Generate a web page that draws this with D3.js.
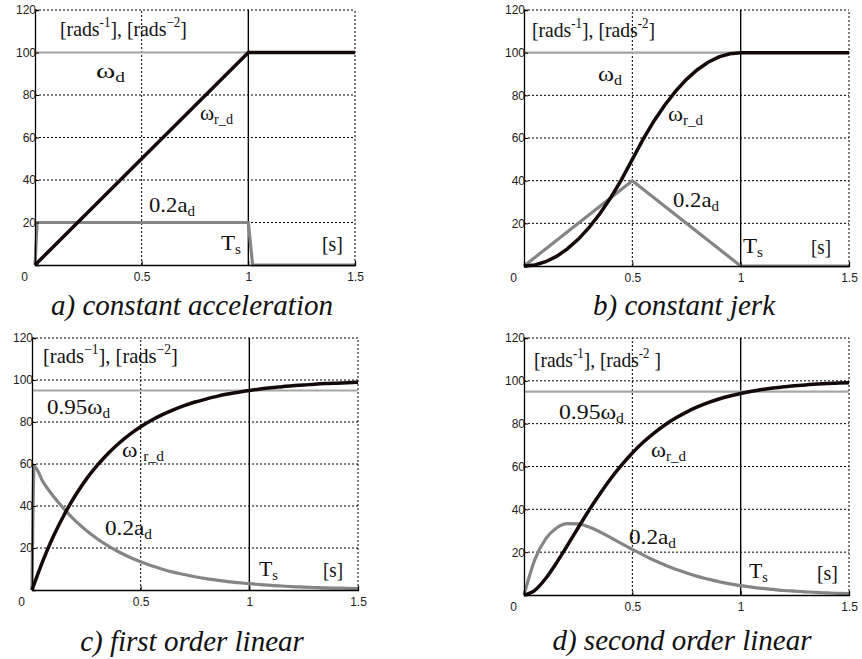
<!DOCTYPE html>
<html>
<head>
<meta charset="utf-8">
<script src="https://cdn.jsdelivr.net/npm/d3@7"></script>
<style>
  body { margin: 0; background: #fff; }
  svg { display: block; }
</style>
</head>
<body>
<div id="chart"></div>
<script>
// tick values shared by all four panels
var xTicks = [0, 0.5, 1, 1.5];
var yTicks = [20, 40, 60, 80, 100, 120];

// common time grid (s)
var t05 = [0, 0.05, 0.1, 0.15, 0.2, 0.25, 0.3, 0.35, 0.4, 0.45, 0.5, 0.55, 0.6, 0.65, 0.7, 0.75,
           0.8, 0.85, 0.9, 0.95, 1, 1.05, 1.1, 1.15, 1.2, 1.25, 1.3, 1.35, 1.4, 1.45, 1.5];

// a) constant acceleration
var tA_speed = [0, 1, 1.5];
var speedA = [0, 100, 100];
var tA_acc = [0, 0.01, 1, 1.02, 1.5];
var accA = [0, 20, 20, 0, 0];

// b) constant jerk
var tB_speed = [0, 0.05, 0.1, 0.15, 0.2, 0.25, 0.3, 0.35, 0.4, 0.45, 0.5, 0.55, 0.6, 0.65, 0.7, 0.75,
                0.8, 0.85, 0.9, 0.95, 1, 1.5];
var speedB = [0, 0.5, 2, 4.5, 8, 12.5, 18, 24.5, 32, 40.5, 50, 59.5, 68, 75.5, 82, 87.5,
              92, 95.5, 98, 99.5, 100, 100];
var tB_acc = [0, 0.5, 1, 1.5];
var accB = [0, 40, 0, 0];

// c) first order linear
var speedC = [0, 13.9, 25.9, 36.2, 45.1, 52.8, 59.3, 65.0, 69.9, 74.1, 77.7, 80.8, 83.5, 85.8, 87.8, 89.5,
              90.9, 92.2, 93.3, 94.2, 95.0, 95.7, 96.3, 96.8, 97.3, 97.6, 98.0, 98.3, 98.5, 98.7, 98.9];
var tC_acc = [0, 0.01, 0.05, 0.1, 0.15, 0.2, 0.25, 0.3, 0.35, 0.4, 0.45, 0.5, 0.55, 0.6, 0.65, 0.7, 0.75,
              0.8, 0.85, 0.9, 0.95, 1, 1.05, 1.1, 1.15, 1.2, 1.25, 1.3, 1.35, 1.4, 1.45, 1.5];
var accC = [0, 59, 51.6, 44.4, 38.3, 32.9, 28.3, 24.4, 21.0, 18.1, 15.6, 13.4, 11.5, 9.9, 8.5, 7.4, 6.3,
            5.4, 4.7, 4.0, 3.5, 3.0, 2.6, 2.2, 1.9, 1.6, 1.4, 1.2, 1.0, 0.9, 0.8, 0.7];

// d) second order linear
var speedD = [0, 2.2, 7.7, 15.0, 23.1, 31.4, 39.6, 47.2, 54.3, 60.6, 66.3, 71.3, 75.6, 79.4, 82.6, 85.4,
              87.8, 89.8, 91.5, 92.9, 94.1, 95.1, 96.0, 96.7, 97.2, 97.7, 98.1, 98.5, 98.7, 99.0, 99.1];
var accD = [0, 16.5, 26.2, 31.3, 33.3, 33.2, 31.7, 29.5, 26.8, 24.0, 21.3, 18.7, 16.2, 14.0, 12.0, 10.3,
            8.7, 7.4, 6.2, 5.2, 4.4, 3.7, 3.1, 2.6, 2.1, 1.8, 1.5, 1.2, 1.0, 0.8, 0.7];

var refLevels = [100, 100, 95, 95];
var captions = ['a) constant acceleration', 'b) constant jerk', 'c) first order linear', 'd) second order linear'];

function zip(ts, vs) {
    return ts.map(function(t, i) { return [t, vs[i]]; });
}

var svg = d3.select('#chart').append('svg')
    .attr('width', 862)
    .attr('height', 659);

var serif = "'Liberation Serif', 'Times New Roman', serif";

// plot boxes in pixels; label x, baseline y, font size and width to squeeze into
var panels = [
    {box: [35, 355, 10, 265], speed: zip(tA_speed, speedA), acc: zip(tA_acc, accA), curve: d3.curveLinear,
     cap: [192, 315],
     labels: [
        {x: 60, y: 36, size: 22, w: 127, parts: [['[rads'], ['-1', 'sup'], ['], [rads'], ['\u22122', 'sup'], [']']]},
        {x: 96, y: 78, size: 22, w: 29, parts: [['\u03c9'], ['d', 'sub']]},
        {x: 200, y: 120, size: 22, w: 33, parts: [['\u03c9'], ['r_d', 'sub']]},
        {x: 149, y: 212, size: 21, w: 46, parts: [['0.2a'], ['d', 'sub']]},
        {x: 221, y: 250, size: 22, w: 20, parts: [['T'], ['s', 'sub']]},
        {x: 322, y: 251, size: 22, w: 21, parts: [['[s]']]}
     ]},
    {box: [524, 849, 10, 266], speed: zip(tB_speed, speedB), acc: zip(tB_acc, accB), curve: d3.curveLinear,
     cap: [684, 315],
     labels: [
        {x: 532, y: 37, size: 22, w: 123, parts: [['[rads'], ['-1', 'sup'], ['],  [rads'], ['-2', 'sup'], [']']]},
        {x: 598, y: 81, size: 22, w: 24, parts: [['\u03c9'], ['d', 'sub']]},
        {x: 668, y: 121, size: 22, w: 35, parts: [['\u03c9'], ['r_d', 'sub']]},
        {x: 673, y: 207, size: 21, w: 46, parts: [['0.2a'], ['d', 'sub']]},
        {x: 743, y: 253, size: 22, w: 20, parts: [['T'], ['s', 'sub']]},
        {x: 811, y: 254, size: 22, w: 20, parts: [['[s]']]}
     ]},
    {box: [32, 358, 338, 590], speed: zip(t05, speedC), acc: zip(tC_acc, accC), curve: d3.curveMonotoneX,
     cap: [192, 651],
     labels: [
        {x: 43, y: 363, size: 22, w: 135, parts: [['[rads'], ['\u22121', 'sup'], ['],  [rads'], ['\u22122', 'sup'], [']']]},
        {x: 47, y: 414, size: 21, w: 63, parts: [['0.95\u03c9'], ['d', 'sub']]},
        {x: 122, y: 457, size: 21, w: 42, parts: [['\u03c9 '], ['r_d', 'sub']]},
        {x: 105, y: 535, size: 21, w: 47, parts: [['0.2a'], ['d', 'sub']]},
        {x: 259, y: 576, size: 22, w: 19, parts: [['T'], ['s', 'sub']]},
        {x: 323, y: 577, size: 22, w: 20, parts: [['[s]']]}
     ]},
    {box: [524, 849, 338, 595], speed: zip(t05, speedD), acc: zip(t05, accD), curve: d3.curveMonotoneX,
     cap: [682, 650],
     labels: [
        {x: 534, y: 367, size: 22, w: 127, parts: [['[rads'], ['-1', 'sup'], ['],  [rads'], ['-2', 'sup'], [' ]']]},
        {x: 559, y: 419, size: 21, w: 65, parts: [['0.95\u03c9'], ['d', 'sub']]},
        {x: 651, y: 457, size: 21, w: 35, parts: [['\u03c9'], ['r_d', 'sub']]},
        {x: 629, y: 544, size: 21, w: 47, parts: [['0.2a'], ['d', 'sub']]},
        {x: 749, y: 578, size: 22, w: 19, parts: [['T'], ['s', 'sub']]},
        {x: 817, y: 580, size: 22, w: 21, parts: [['[s]']]}
     ]}
];

function addLabel(g, lab) {
    var text = g.append('text')
        .attr('x', 0)
        .attr('y', 0)
        .attr('font-family', serif)
        .attr('font-size', lab.size)
        .attr('fill', '#111');
    var shift = 0;
    lab.parts.forEach(function(p) {
        var want = 0;
        if (p[1] == 'sub') want = lab.size * 0.18;
        if (p[1] == 'sup') want = -lab.size * 0.4;
        text.append('tspan')
            .attr('dy', want - shift)
            .attr('font-size', p[1] ? lab.size * 0.66 : lab.size)
            .text(p[0]);
        shift = want;
    });
    // squeeze / stretch horizontally to the width seen in the figure
    var len = text.node().getComputedTextLength();
    var sx = len > 0 ? lab.w / len : 1;
    text.attr('transform', 'translate(' + lab.x + ',' + lab.y + ') scale(' + sx + ',1)');
}

panels.forEach(function(p, i) {
    var x = d3.scaleLinear().domain([0, 1.5]).range([p.box[0], p.box[1]]);
    var y = d3.scaleLinear().domain([0, 120]).range([p.box[3], p.box[2]]);
    var g = svg.append('g');

    // dotted grid
    g.selectAll('.hgrid').data(yTicks).enter().append('line')
        .attr('x1', x(0)).attr('x2', x(1.5))
        .attr('y1', function(d) { return y(d); })
        .attr('y2', function(d) { return y(d); })
        .attr('stroke', '#000').attr('stroke-width', 1)
        .attr('stroke-dasharray', '2,2');
    g.selectAll('.vgrid').data([0.5, 1.5]).enter().append('line')
        .attr('x1', function(d) { return x(d); })
        .attr('x2', function(d) { return x(d); })
        .attr('y1', y(0)).attr('y2', y(120))
        .attr('stroke', '#000').attr('stroke-width', 1)
        .attr('stroke-dasharray', '2,2');

    // settling time marker
    g.append('line')
        .attr('x1', x(1)).attr('x2', x(1))
        .attr('y1', y(0)).attr('y2', y(120))
        .attr('stroke', '#000').attr('stroke-width', 1.4);

    // reference speed
    g.append('line')
        .attr('x1', x(0)).attr('x2', x(1.5))
        .attr('y1', y(refLevels[i])).attr('y2', y(refLevels[i]))
        .attr('stroke', '#a6a6a6').attr('stroke-width', 2.2);

    var line = d3.line()
        .x(function(d) { return x(d[0]); })
        .y(function(d) { return y(d[1]); })
        .curve(p.curve);

    g.append('path')
        .attr('d', line(p.acc))
        .attr('fill', 'none')
        .attr('stroke', '#858585')
        .attr('stroke-width', 3.2);

    g.append('path')
        .attr('d', line(p.speed))
        .attr('fill', 'none')
        .attr('stroke', '#140808')
        .attr('stroke-width', 3.5);

    // axes (ticks pointing inward, MATLAB style)
    var yAxis = g.append('g')
        .attr('transform', 'translate(' + x(0) + ',0)')
        .call(d3.axisLeft(y).tickValues(yTicks).tickSize(-4).tickPadding(2).tickFormat(d3.format('d')));
    var xAxis = g.append('g')
        .attr('transform', 'translate(0,' + y(0) + ')')
        .call(d3.axisBottom(x).tickValues(xTicks).tickSize(-4).tickPadding(7).tickFormat(d3.format('')));
    [yAxis, xAxis].forEach(function(a) {
        a.select('.domain').attr('stroke', '#000').attr('stroke-width', 1.3);
        a.selectAll('text')
            .attr('font-family', 'Arial, "Liberation Sans", sans-serif')
            .attr('font-size', 12)
            .attr('fill', '#222');
    });
    yAxis.selectAll('text').attr('x', 1);
    xAxis.selectAll('text').filter(function(d) { return d == 0; }).attr('x', -11);

    p.labels.forEach(function(lab) { addLabel(svg, lab); });

    svg.append('text')
        .attr('x', p.cap[0])
        .attr('y', p.cap[1])
        .attr('text-anchor', 'middle')
        .attr('font-family', serif)
        .attr('font-style', 'italic')
        .attr('font-size', 29)
        .attr('fill', '#111')
        .text(captions[i]);
});
</script>
</body>
</html>
